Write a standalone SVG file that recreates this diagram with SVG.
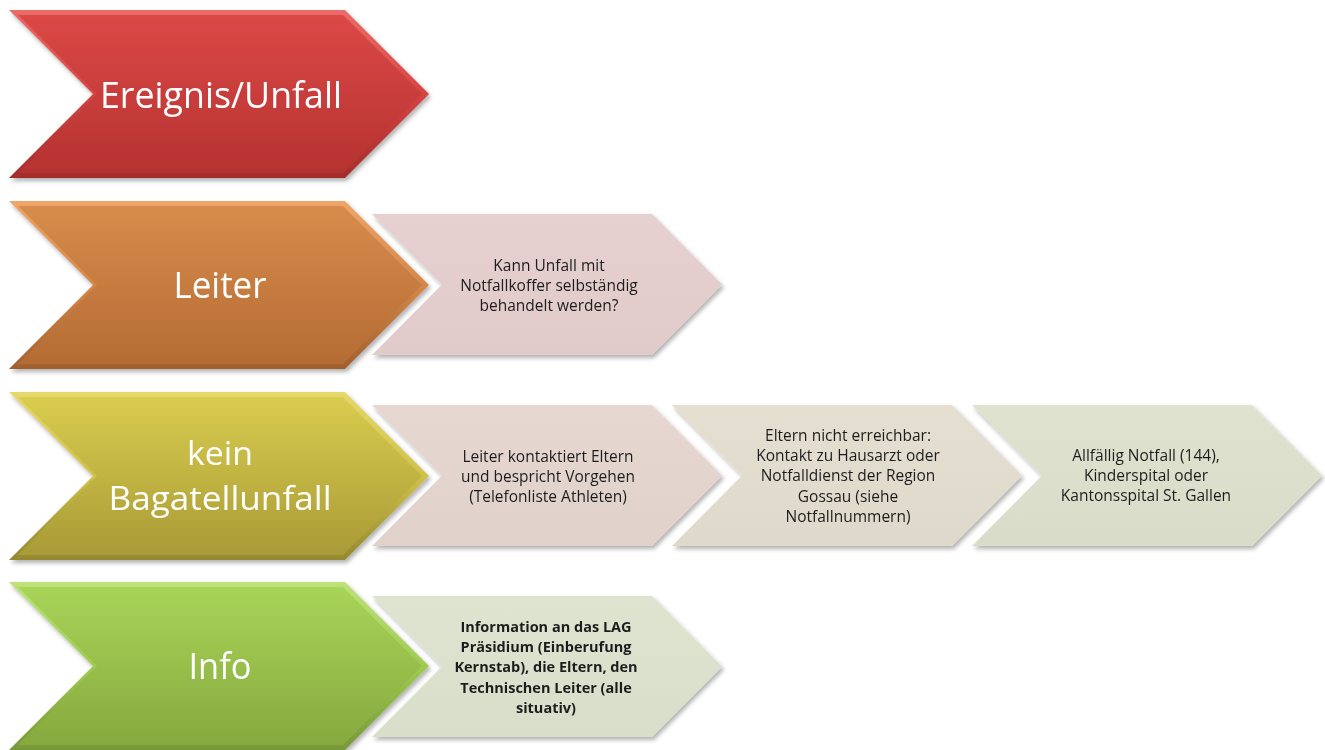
<svg xmlns="http://www.w3.org/2000/svg" width="1325" height="750" viewBox="0 0 1325 750">
<defs>
<filter id="sh" x="-5%" y="-5%" width="115%" height="120%">
<feDropShadow dx="2" dy="3" stdDeviation="2" flood-color="#000" flood-opacity="0.3"/>
</filter>
<linearGradient id="gRedO" x1="0" y1="0" x2="0" y2="1"><stop offset="0" stop-color="#EA6D69"/><stop offset="0.5" stop-color="#D64441"/><stop offset="1" stop-color="#A22D2B"/></linearGradient>
<linearGradient id="gRed" x1="0" y1="0" x2="0" y2="1"><stop offset="0" stop-color="#DB4846"/><stop offset="1" stop-color="#B63331"/></linearGradient>
<linearGradient id="gOrO" x1="0" y1="0" x2="0" y2="1"><stop offset="0" stop-color="#EEA66A"/><stop offset="0.5" stop-color="#D4874A"/><stop offset="1" stop-color="#A0602E"/></linearGradient>
<linearGradient id="gOr" x1="0" y1="0" x2="0" y2="1"><stop offset="0" stop-color="#D88C4C"/><stop offset="1" stop-color="#B56C34"/></linearGradient>
<linearGradient id="gYeO" x1="0" y1="0" x2="0" y2="1"><stop offset="0" stop-color="#E6D96C"/><stop offset="0.5" stop-color="#CFC14A"/><stop offset="1" stop-color="#958830"/></linearGradient>
<linearGradient id="gYe" x1="0" y1="0" x2="0" y2="1"><stop offset="0" stop-color="#D9CC4E"/><stop offset="1" stop-color="#A99B36"/></linearGradient>
<linearGradient id="gGrO" x1="0" y1="0" x2="0" y2="1"><stop offset="0" stop-color="#BEE278"/><stop offset="0.5" stop-color="#9FCB52"/><stop offset="1" stop-color="#779838"/></linearGradient>
<linearGradient id="gGr" x1="0" y1="0" x2="0" y2="1"><stop offset="0" stop-color="#A8D458"/><stop offset="1" stop-color="#87A93E"/></linearGradient>
<linearGradient id="gP1" x1="0" y1="0" x2="0" y2="1"><stop offset="0" stop-color="#E6D0D0"/><stop offset="1" stop-color="#E0CACA"/></linearGradient>
<linearGradient id="gP2" x1="0" y1="0" x2="0" y2="1"><stop offset="0" stop-color="#E6D8D1"/><stop offset="1" stop-color="#E0D2CB"/></linearGradient>
<linearGradient id="gP3" x1="0" y1="0" x2="0" y2="1"><stop offset="0" stop-color="#E5DFD2"/><stop offset="1" stop-color="#DFD9CC"/></linearGradient>
<linearGradient id="gP4" x1="0" y1="0" x2="0" y2="1"><stop offset="0" stop-color="#E0E2D0"/><stop offset="1" stop-color="#DADCCA"/></linearGradient>
<linearGradient id="gP5" x1="0" y1="0" x2="0" y2="1"><stop offset="0" stop-color="#DEE4D0"/><stop offset="1" stop-color="#D8DECA"/></linearGradient>
</defs>
<style>
.big{font-family:"Open Sans","Liberation Sans",sans-serif;fill:#fff;text-anchor:middle}
.sm{font-family:"Open Sans","Liberation Sans",sans-serif;font-size:15.5px;fill:#1e1e1e;text-anchor:middle}
.bd{font-weight:bold;font-size:14.5px}
</style>
<g id="connectors"/>

<g id="n-ereignis" filter="url(#sh)">
<polygon points="9,10 345,10 429,94 345,178 9,178 93,94" fill="url(#gRedO)"/>
<polygon points="18,15 343,15 422,94 343,173 18,173 97,94" fill="url(#gRed)"/>
<text class="big" x="221" y="108" font-size="37" textLength="242" lengthAdjust="spacingAndGlyphs">Ereignis/Unfall</text>
</g>

<g id="n-leiter" filter="url(#sh)">
<polygon points="9,201 345,201 429,285 345,369 9,369 93,285" fill="url(#gOrO)"/>
<polygon points="18,206 343,206 422,285 343,364 18,364 97,285" fill="url(#gOr)"/>
<text class="big" x="220" y="298" font-size="37" textLength="93" lengthAdjust="spacingAndGlyphs">Leiter</text>
</g>

<g id="n-kein" filter="url(#sh)">
<polygon points="9,392 345,392 429,476 345,560 9,560 93,476" fill="url(#gYeO)"/>
<polygon points="18,397 343,397 422,476 343,555 18,555 97,476" fill="url(#gYe)"/>
<text class="big" x="220" y="465" font-size="32" textLength="66" lengthAdjust="spacingAndGlyphs">kein</text>
<text class="big" x="220" y="510" font-size="32" textLength="223" lengthAdjust="spacingAndGlyphs">Bagatellunfall</text>
</g>

<g id="n-info" filter="url(#sh)">
<polygon points="9,582 345,582 429,666 345,750 9,750 93,666" fill="url(#gGrO)"/>
<polygon points="18,587 343,587 422,666 343,745 18,745 97,666" fill="url(#gGr)"/>
<text class="big" x="220" y="679" font-size="37" textLength="63" lengthAdjust="spacingAndGlyphs">Info</text>
</g>

<g id="n-kann" filter="url(#sh)">
<polygon points="372,214 652,214 722,284.5 652,355 372,355 442,284.5" fill="url(#gP1)"/>
<text class="sm" x="549" y="271">Kann Unfall mit</text>
<text class="sm" x="549" y="291">Notfallkoffer selbständig</text>
<text class="sm" x="549" y="311">behandelt werden?</text>
</g>

<g id="n-kontakt" filter="url(#sh)">
<polygon points="372,405 652,405 722,475.5 652,546 372,546 442,475.5" fill="url(#gP2)"/>
<text class="sm" x="548" y="462">Leiter kontaktiert Eltern</text>
<text class="sm" x="548" y="482">und bespricht Vorgehen</text>
<text class="sm" x="548" y="502">(Telefonliste Athleten)</text>
</g>

<g id="n-hausarzt" filter="url(#sh)">
<polygon points="672,405 952,405 1022,475.5 952,546 672,546 742,475.5" fill="url(#gP3)"/>
<text class="sm" x="848" y="441">Eltern nicht erreichbar:</text>
<text class="sm" x="848" y="461">Kontakt zu Hausarzt oder</text>
<text class="sm" x="848" y="481">Notfalldienst der Region</text>
<text class="sm" x="848" y="502">Gossau (siehe</text>
<text class="sm" x="848" y="522">Notfallnummern)</text>
</g>

<g id="n-notfall" filter="url(#sh)">
<polygon points="972,405 1252,405 1322,475.5 1252,546 972,546 1042,475.5" fill="url(#gP4)"/>
<text class="sm" x="1146" y="461">Allfällig Notfall (144),</text>
<text class="sm" x="1146" y="481">Kinderspital oder</text>
<text class="sm" x="1146" y="501">Kantonsspital St. Gallen</text>
</g>

<g id="n-information" filter="url(#sh)">
<polygon points="372,596 652,596 722,666.5 652,737 372,737 442,666.5" fill="url(#gP5)"/>
<text class="sm bd" x="546" y="632">Information an das LAG</text>
<text class="sm bd" x="546" y="652">Präsidium (Einberufung</text>
<text class="sm bd" x="546" y="672">Kernstab), die Eltern, den</text>
<text class="sm bd" x="546" y="693">Technischen Leiter (alle</text>
<text class="sm bd" x="546" y="713">situativ)</text>
</g>
</svg>
